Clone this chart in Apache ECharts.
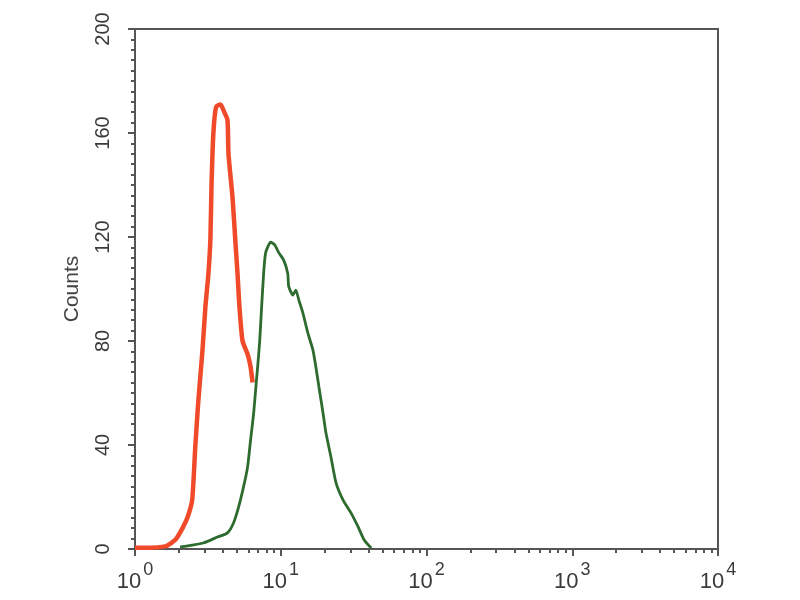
<!DOCTYPE html>
<html>
<head>
<meta charset="utf-8">
<script src="https://cdn.jsdelivr.net/npm/echarts@6/dist/echarts.min.js"></script>
<style>html,body{margin:0;padding:0;background:#fff;}#c{width:800px;height:600px;}</style>
</head>
<body>
<div id="c"></div>
<script>
// Red histogram (control) : [fluorescence, counts]
var redSeries = [
  [1.0,0.5],[1.27,0.5],[1.61,1],[1.74,2],[1.92,4],[2.14,8.5],[2.32,13],[2.47,19],
  [2.59,39],[2.72,57],[2.9,76],[3.04,93],[3.19,106],[3.29,119],[3.35,140],[3.45,160],
  [3.6,170],[3.86,171],[4.1,168],[4.31,165],[4.38,152],[4.67,135],[4.9,117],[5.05,106],
  [5.21,93],[5.47,80],[5.92,75],[6.21,70],[6.41,64]
];
// Green histogram (sample)
var greenSeries = [
  [2.04,0.8],[2.47,1.5],[2.94,2.3],[3.68,4.6],[4.31,6.2],[4.74,10],[5.13,16],[5.56,24],
  [5.92,31.5],[6.21,42],[6.51,52],[6.72,61],[6.94,70],[7.17,80],[7.39,93],[7.63,106],
  [7.88,114],[8.53,118],[9.09,117],[9.69,114],[10.49,111],[11.17,106],[11.34,101],
  [12.1,97.7],[12.69,99.6],[13.3,95.8],[14.18,90.8],[15.36,83],[16.63,76.5],[17.42,70],
  [18.28,62.3],[19.5,52.3],[20.43,44.6],[22.1,35.4],[23.95,25.4],[26.77,18.8],[30.4,13.8],
  [33.96,8.5],[37.36,3.5],[41.76,0.4]
];
var xMajorTicks = [1, 10, 100, 1000, 10000];
var xMinorTicks = [2,3,4,5,6,7,8,9,20,30,40,50,60,70,80,90,200,300,400,500,600,700,800,900,2000,3000,4000,5000,6000,7000,8000,9000];
var yTicks = [0, 40, 80, 120, 160, 200];

var chart = echarts.init(document.getElementById('c'));
var axisColor = '#555';
var textColor = '#3a3a3a';
var font = 'Liberation Sans, Arial, sans-serif';
chart.setOption({
  animation: false,
  backgroundColor: '#fff',
  grid: {left: 135, right: 82, top: 29, bottom: 51, outerBoundsMode: 'none', containLabel: false,
    show: true, borderColor: axisColor, borderWidth: 2, backgroundColor: 'transparent'},
  xAxis: [{
    type: 'log', logBase: 10, min: 1, max: 10000, position: 'bottom',
    axisLine: {show: true, lineStyle: {color: axisColor, width: 2}},
    axisTick: {show: true, length: 7, inside: false, customValues: xMajorTicks, lineStyle: {color: axisColor, width: 2}},
    minorTick: {show: false},
    splitLine: {show: false},
    axisLabel: {
      show: true, margin: 12, customValues: xMajorTicks,
      formatter: function (v) {
        var e = Math.round(Math.log10(v));
        return '{b|10}{s|' + e + '}';
      },
      rich: {
        b: {fontSize: 22, color: textColor, fontFamily: font, lineHeight: 32, padding: [0, 2, 0, 0], verticalAlign: 'bottom'},
        s: {fontSize: 18, color: textColor, fontFamily: font, lineHeight: 17, verticalAlign: 'top'}
      }
    }
  }, {
    type: 'log', logBase: 10, min: 1, max: 10000, position: 'bottom', offset: 0,
    axisLine: {show: false},
    axisTick: {show: true, length: 4, customValues: xMinorTicks, lineStyle: {color: axisColor, width: 2}},
    axisLabel: {show: false},
    splitLine: {show: false}
  }],
  yAxis: {
    type: 'value', min: 0, max: 200, interval: 40,
    name: 'Counts', nameLocation: 'middle', nameGap: 52, nameRotate: 90,
    nameTextStyle: {fontSize: 21, color: '#444', fontFamily: font},
    axisLine: {show: true, lineStyle: {color: axisColor, width: 2}},
    axisTick: {show: true, length: 7, lineStyle: {color: axisColor, width: 2}},
    minorTick: {show: true, splitNumber: 10, length: 4, lineStyle: {color: axisColor, width: 2}},
    splitLine: {show: false},
    axisLabel: {
      rotate: 90, margin: 22, fontSize: 20, color: textColor,
      fontFamily: font,
      customValues: yTicks
    }
  },
  series: [{
    type: 'line', data: redSeries, xAxisIndex: 0, showSymbol: false, smooth: 0.2,
    lineStyle: {color: '#f04a2a', width: 4.5}, z: 2
  }, {
    type: 'line', data: greenSeries, xAxisIndex: 0, showSymbol: false, smooth: 0.2,
    lineStyle: {color: '#2e6b2e', width: 2.8}, z: 3
  }]
});
</script>
</body>
</html>
